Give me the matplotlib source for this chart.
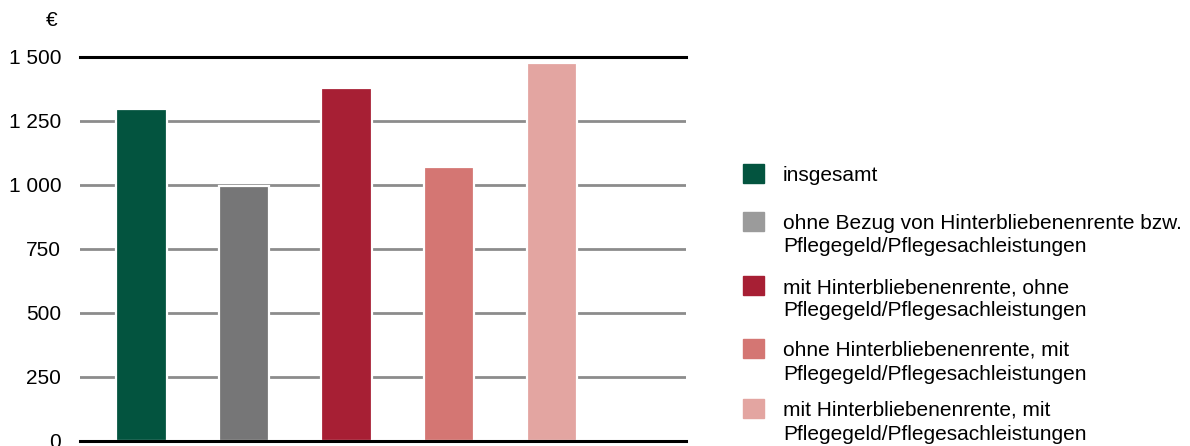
import matplotlib
matplotlib.use("Agg")
import matplotlib.pyplot as plt
from matplotlib.patches import Rectangle

plt.rcParams['font.family'] = ['Liberation Sans', 'DejaVu Sans']

categories = [
    "insgesamt",
    "ohne Bezug von Hinterbliebenenrente bzw.\nPflegegeld/Pflegesachleistungen",
    "mit Hinterbliebenenrente, ohne\nPflegegeld/Pflegesachleistungen",
    "ohne Hinterbliebenenrente, mit\nPflegegeld/Pflegesachleistungen",
    "mit Hinterbliebenenrente, mit\nPflegegeld/Pflegesachleistungen",
]
values = [1296, 998, 1380, 1070, 1478]
colors = ["#03543F", "#767677", "#A71F34", "#D47673", "#E3A5A1"]
legend_colors = ["#03543F", "#9B9B9B", "#A71F34", "#D47673", "#E3A5A1"]
yticks = [0, 250, 500, 750, 1000, 1250, 1500]
ytick_labels = ["0", "250", "500", "750", "1 000", "1 250", "1 500"]

W, H = 1190, 446
fig = plt.figure(figsize=(W / 100, H / 100), dpi=100)
ax = fig.add_axes([80 / W, 5 / H, 606 / W, 384 / H])

x = list(range(len(values)))
ax.bar(x, values, width=0.49, color=colors, edgecolor="white", linewidth=1.6, zorder=3)
ax.set_xlim(-0.6, 5.31)
ax.set_ylim(0, 1500)
ax.set_yticks(yticks)
ax.set_yticklabels(ytick_labels)
ax.set_xticks([])
for t in yticks[1:-1]:
    ax.axhline(t, color="#8C8C8C", linewidth=2, zorder=1)
ax.axhline(1500, color="black", linewidth=2.2, zorder=4, clip_on=False)
ax.axhline(0, color="black", linewidth=2.2, zorder=4, clip_on=False)
for s in ax.spines.values():
    s.set_visible(False)
ax.tick_params(axis="y", length=0, pad=13.5, labelsize=15)

fig.text(52 / W, 1 - 21 / H, "€", fontsize=15, ha="center", va="center")

fs = 15
ls = 1.0
ys = [173, 221, 285, 348, 408]
for lab, c, yc in zip(categories, legend_colors, ys):
    fig.patches.append(Rectangle((743 / W, 1 - (yc + 9.5) / H), 21 / W, 19 / H,
                                 transform=fig.transFigure, color=c, figure=fig))
    lines = lab.split("\n")
    for i, line in enumerate(lines):
        fig.text(783 / W, 1 - (yc + 8 + i * 23.5) / H, line, fontsize=fs,
                 ha="left", va="baseline")

fig.savefig("out.png", dpi=100)
